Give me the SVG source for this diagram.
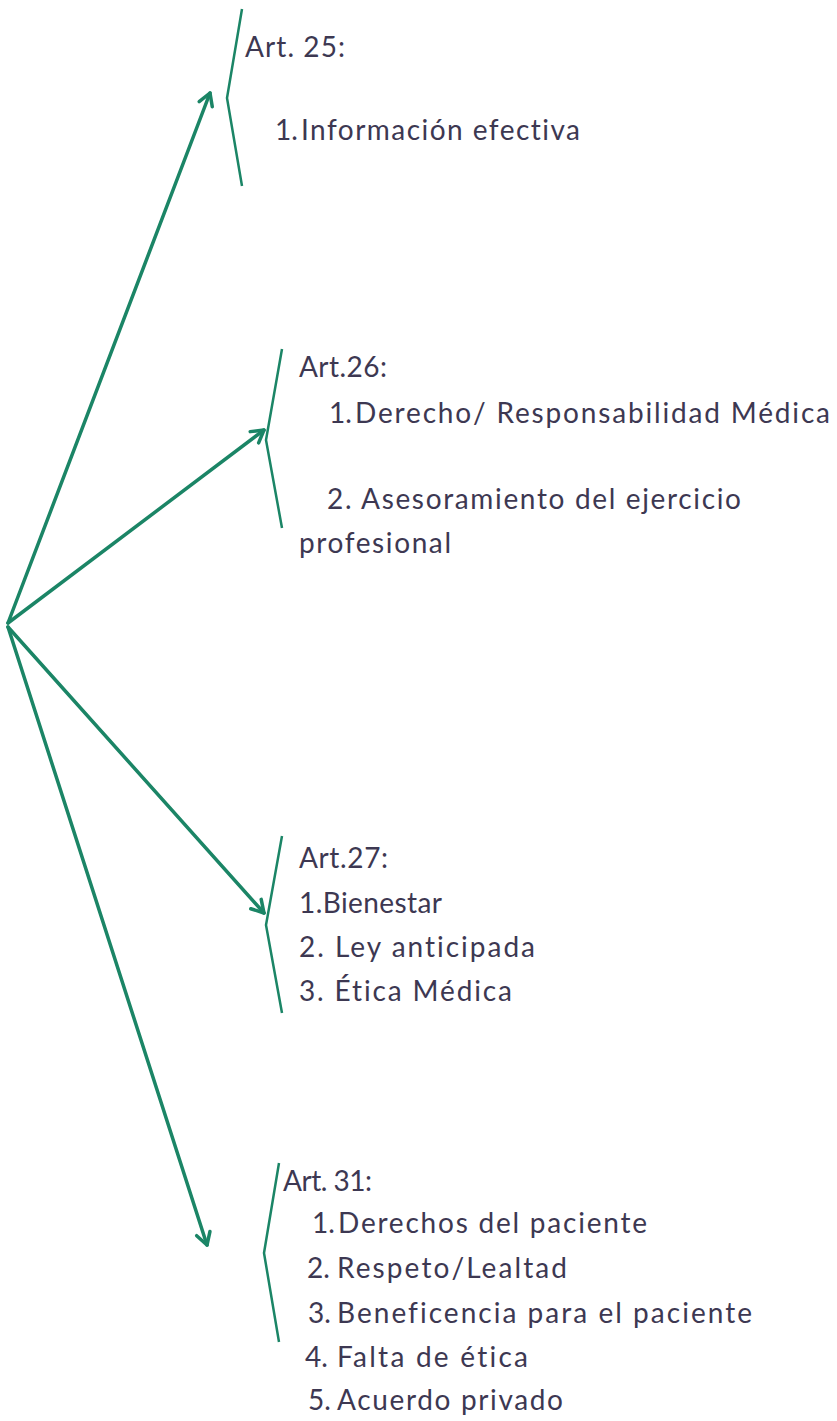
<svg xmlns="http://www.w3.org/2000/svg" width="837" height="1421" viewBox="0 0 837 1421">
<style>
.t{font-family:"Lato","Liberation Sans",sans-serif;font-size:28px;fill:#3d3852;font-variant-ligatures:none}
.br{fill:none;stroke:#1b8566;stroke-width:2.5;stroke-linejoin:miter}
.ar{fill:none;stroke:#1b8566;stroke-width:3.5;stroke-linecap:round}
</style>
<defs>
<marker id="ah" markerUnits="userSpaceOnUse" markerWidth="30" markerHeight="30" refX="0" refY="0" viewBox="-15 -15 30 30" orient="auto" overflow="visible">
<path d="M-12,-7 L0,0 L-12,7" fill="none" stroke="#1b8566" stroke-width="3.5" stroke-linecap="round" stroke-linejoin="round"/>
</marker>
</defs>
<rect width="837" height="1421" fill="#ffffff"/>
<g id="connectors">
<line class="ar" x1="8" y1="623" x2="210" y2="93" marker-end="url(#ah)"/>
<line class="ar" x1="8" y1="623" x2="264" y2="430" marker-end="url(#ah)"/>
<line class="ar" x1="8" y1="627" x2="264" y2="913" marker-end="url(#ah)"/>
<line class="ar" x1="8" y1="627" x2="207" y2="1245" marker-end="url(#ah)"/>
</g>
<g id="art25">
<path class="br" d="M242,9 L227,98 L242,186"/>
<text class="t" x="245" y="57" textLength="100">Art. 25:</text>
<text class="t" y="140"><tspan x="275">1.</tspan><tspan x="301" textLength="279">Información efectiva</tspan></text>
</g>
<g id="art26">
<path class="br" d="M282,349 L266,440 L282,528"/>
<text class="t" x="299" y="377" textLength="88">Art.26:</text>
<text class="t" y="423"><tspan x="329">1.</tspan><tspan x="355" textLength="475">Derecho/ Responsabilidad Médica</tspan></text>
<text class="t" x="327" y="509" textLength="414">2. Asesoramiento del ejercicio</text>
<text class="t" x="299" y="553" textLength="152">profesional</text>
</g>
<g id="art27">
<path class="br" d="M282,836 L266,925 L282,1013"/>
<text class="t" x="299" y="868" textLength="89">Art.27:</text>
<text class="t" x="299" y="913" textLength="143">1.Bienestar</text>
<text class="t" x="299" y="957" textLength="236">2. Ley anticipada</text>
<text class="t" x="299" y="1001" textLength="213">3. Ética Médica</text>
</g>
<g id="art31">
<path class="br" d="M279,1163 L264,1253 L279,1342"/>
<text class="t" x="283" y="1191" textLength="89">Art. 31:</text>
<text class="t" y="1233"><tspan x="312">1.</tspan><tspan x="338" textLength="309">Derechos del paciente</tspan></text>
<text class="t" y="1278"><tspan x="307">2.</tspan><tspan x="337" textLength="230">Respeto/Lealtad</tspan></text>
<text class="t" y="1323"><tspan x="308">3.</tspan><tspan x="337" textLength="415">Beneficencia para el paciente</tspan></text>
<text class="t" y="1367"><tspan x="305">4.</tspan><tspan x="337" textLength="191">Falta de ética</tspan></text>
<text class="t" y="1410"><tspan x="308">5.</tspan><tspan x="337" textLength="226">Acuerdo privado</tspan></text>
</g>
</svg>
